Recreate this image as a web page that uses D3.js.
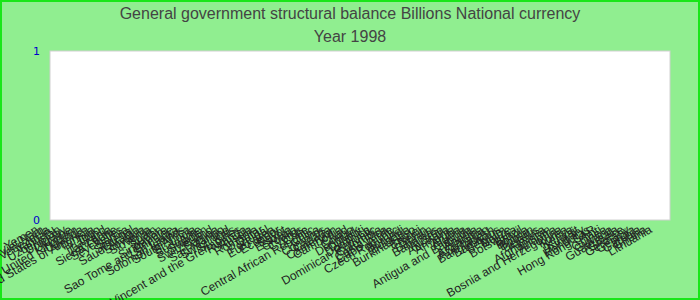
<html lang="en">
<head>
  <meta charset="UTF-8">
  <title>General government structural balance</title>
  <script src="https://cdn.jsdelivr.net/npm/d3@7"></script>
  <style>
    body { margin: 0; }
  </style>
</head>
<body>
  <svg width="700" height="300"></svg>

  <script>
    // Titles
    const title = "General government structural balance Billions National currency";
    const subtitle = "Year 1998";

    // Countries, in the order shown on the axis
    const countries = [
      "Yemen", "Viet Nam", "Venezuela", "Vanuatu", "Uzbekistan", "Uruguay", "Ukraine",
      "United Kingdom", "Uganda", "United States of America", "Tunisia", "Togo", "Thailand",
      "Tanzania", "Sierra Leone", "Seychelles", "Serbia", "Senegal", "Saudi Arabia", "Slovakia",
      "Slovenia", "Spain", "Sudan", "Singapore", "Sao Tome and Principe", "Sri Lanka",
      "Solomon Islands", "South Africa", "St. Lucia", "Suriname", "Sweden", "Switzerland",
      "Samoa", "San Marino", "Swaziland", "St. Kitts", "Saint Vincent and the Grenadines",
      "Rwanda", "Russia", "Romania", "Qatar", "Portugal", "Euro area", "Ecuador", "Egypt",
      "Estonia", "Croatia", "Cyprus", "Chile", "Central African Republic", "China", "Comoros",
      "Canada", "Cameroon", "Cambodia", "Chad", "Congo", "Denmark", "Djibouti", "Dominica",
      "Dominican Republic", "Colombia", "Costa Rica", "Cabo Verde", "Czech Republic", "Burundi",
      "Bulgaria", "Burkina Faso", "Brunei", "Benin", "Bahrain", "Bahamas", "Austria",
      "Australia", "Armenia", "Aruba", "Algeria", "Antigua and Barbuda", "Angola", "Argentina",
      "Azerbaijan", "Bangladesh", "Barbados", "Belgium", "Belize", "Botswana", "Brazil",
      "Bolivia", "Bhutan", "Belarus", "Albania", "Afghanistan", "Andorra",
      "Bosnia and Herzegovina", "Korea", "Kenya", "Kuwait", "Hungary", "Honduras",
      "Hong Kong SAR", "Haiti", "Guinea", "Guyana", "Guatemala", "Greece", "Germany", "Georgia",
      "Gambia", "Ghana", "Lithuania"
    ];

    // No values are reported for 1998
    const values = [];

    // Y axis ticks
    const yTicks = [0, 1];

    const svgWidth = 700;
    const svgHeight = 300;
    const margin = { top: 51, right: 30, bottom: 80, left: 50 };
    const width = svgWidth - margin.left - margin.right;
    const height = svgHeight - margin.top - margin.bottom;

    const svg = d3.select("svg");

    // fond vert + bordure
    svg.append("rect")
      .attr("x", 1).attr("y", 1)
      .attr("width", svgWidth - 2).attr("height", svgHeight - 2)
      .attr("fill", "#90ee90")
      .attr("stroke", "#19e619")
      .attr("stroke-width", 2);

    // titres
    svg.append("text")
      .attr("x", svgWidth / 2).attr("y", 19)
      .attr("text-anchor", "middle")
      .style("font-family", "'Liberation Sans', Arial, sans-serif")
      .style("font-size", "16px")
      .attr("fill", "#444")
      .text(title);

    svg.append("text")
      .attr("x", svgWidth / 2).attr("y", 42)
      .attr("text-anchor", "middle")
      .style("font-family", "'Liberation Sans', Arial, sans-serif")
      .style("font-size", "16px")
      .attr("fill", "#444")
      .text(subtitle);

    const g = svg.append("g")
      .attr("transform", `translate(${margin.left},${margin.top})`);

    // zone du graphique
    g.append("rect")
      .attr("width", width)
      .attr("height", height)
      .attr("fill", "white")
      .attr("stroke", "#d0d0d0")
      .attr("stroke-width", 1);

    const x = d3.scaleBand()
      .domain(countries)
      .range([0, width])
      .padding(0.1);

    const y = d3.scaleLinear()
      .domain([0, 1])
      .range([height, 0]);

    // barres (aucune valeur)
    g.selectAll(".bar")
      .data(values)
      .join("rect")
      .attr("class", "bar")
      .attr("x", d => x(d.country))
      .attr("y", d => y(Math.max(0, d.value)))
      .attr("width", x.bandwidth())
      .attr("height", d => Math.abs(y(d.value) - y(0)))
      .attr("fill", "steelblue");

    // axe x
    const xAxis = g.append("g")
      .attr("transform", `translate(0,${height})`)
      .call(d3.axisBottom(x).tickSize(0));
    xAxis.select(".domain").remove();
    xAxis.selectAll("text")
      .attr("y", 0)
      .attr("dy", 0)
      .attr("transform", "translate(-14,12) rotate(-30)")
      .style("text-anchor", "end")
      .style("font-family", "'Liberation Sans', Arial, sans-serif")
      .style("font-size", "12px")
      .attr("fill", "#222");

    // axe y
    const yAxis = g.append("g")
      .call(d3.axisLeft(y).tickValues(yTicks).tickFormat(d3.format("d")).tickSize(0).tickPadding(10));
    yAxis.select(".domain").remove();
    yAxis.selectAll("text")
      .style("font-family", "'DejaVu Sans', sans-serif")
      .style("font-size", "11px")
      .attr("fill", "#0000cc");
  </script>
</body>
</html>
